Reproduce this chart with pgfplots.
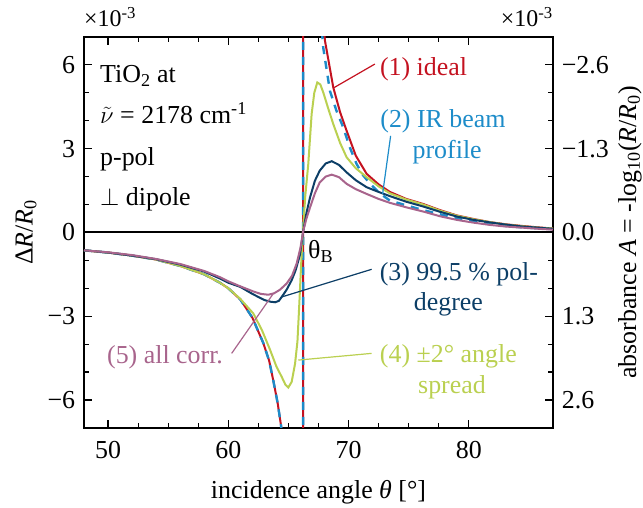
\documentclass[border=0pt]{standalone}
\usepackage{pgfplots}
\pgfplotsset{compat=1.18}
\usepackage{fontspec}
\setmainfont{Liberation Serif}
\definecolor{cI}{RGB}{196,18,32}
\definecolor{cII}{RGB}{29,140,201}
\definecolor{cIII}{RGB}{12,62,102}
\definecolor{cIV}{RGB}{186,208,80}
\definecolor{cV}{RGB}{168,100,140}
\begin{document}
\fontsize{26}{31}\selectfont
\begin{tikzpicture}
\useasboundingbox (-84bp,-80bp) rectangle (559bp,428bp);
\begin{axis}[
 name=main,
 at={(0,0)}, anchor=south west,
 scale only axis, width=469bp, height=391bp,
 xmin=48, xmax=87, ymin=-7, ymax=7,
 xtick={50,60,70,80}, xticklabels={50,60,70,80}, minor x tick num=3,
 ytick={-6,-3,0,3,6}, yticklabels={−6,−3,0,3,6}, minor y tick num=2,
 tick align=inside,
 major tick length=8bp, minor tick length=5bp,
 every tick/.style={black, line width=1.2bp},
 axis line style={line width=2bp},
 ytick pos=both, yticklabel pos=left, xtick pos=both, xticklabel pos=bottom,
 xticklabel style={yshift=-4bp},
 xlabel={incidence angle \textit{θ} [°]},
 ylabel={Δ\textit{R}/\textit{R}\textsubscript{0}},
 xlabel style={at={(axis description cs:0.5,-0.1637)}, anchor=center},
 ylabel style={at={(axis description cs:-0.1237,0.5)}, anchor=center},
 clip mode=individual,
]
\addplot[black, line width=2bp] coordinates {(48,0)(87,0)};
% (1) ideal
\addplot[cI, line width=2bp] coordinates {
(48,-0.64)(50,-0.72)(52,-0.83)(54,-0.97)(56,-1.2)(58,-1.5)(59.3,-1.8)(60,-2.0)(61,-2.4)(62,-3.05)(62.9,-3.95)(63.4,-4.6)(63.74,-5.3)(64.1,-6.1)(64.38,-6.9)(64.6,-7.7)(65,-9.5)(65.5,-15)(65.9,-35)(66.18,-150)
(66.26,150)(66.6,35)(67,15)(67.5,9.3)(68.04,6.86)(68.73,5.19)(69.3,4.3)(69.84,3.64)(70.6,2.75)(71.5,2.1)(72.5,1.72)(73.44,1.45)(74.8,1.2)(76.2,1.02)(77.6,0.8)(79,0.61)(80.4,0.48)(81.75,0.37)(83.1,0.29)(84.5,0.23)(85.8,0.18)(87,0.14)};
% (2) IR beam profile
\addplot[cII, line width=2.4bp, dash pattern=on 8bp off 7bp] coordinates {
(48,-0.64)(50,-0.72)(52,-0.83)(54,-0.97)(56,-1.2)(58,-1.5)(59.3,-1.8)(60,-2.0)(61,-2.4)(62,-3.05)(62.9,-3.95)(63.4,-4.6)(63.74,-5.3)(64.1,-6.1)(64.38,-6.9)(64.6,-7.7)(65,-9.5)(65.5,-15)(65.9,-35)(66.18,-150)
(66.26,150)(66.6,35)(67,14)(67.5,8.6)(67.9,6.6)(68.45,5.07)(69,4.35)(69.56,3.76)(70.1,3.05)(70.67,2.45)(71.2,2.05)(71.8,1.74)(72.6,1.4)(73.44,1.14)(74.8,0.97)(76.2,0.8)(77.6,0.65)(79,0.52)(80.4,0.4)(81.75,0.3)(83.1,0.23)(84.5,0.18)(85.8,0.15)(87,0.12)};
% (4) angle spread
\addplot[cIV, line width=2bp] coordinates {
(48,-0.64)(50,-0.72)(52,-0.83)(54,-0.97)(56,-1.2)(58,-1.5)(59.3,-1.8)(60,-2.0)(61,-2.38)(62.08,-2.9)(62.8,-3.5)(63.47,-4.2)(64.0,-4.8)(64.44,-5.17)(64.75,-5.45)(64.99,-5.55)(65.27,-5.35)(65.55,-4.7)(65.75,-3.9)(65.9,-2.6)(66.05,-1.2)(66.2,0.0)(66.4,1.3)(66.65,2.45)(66.93,4.24)(67.15,5.0)(67.4,5.37)(67.65,5.3)(67.9,5.01)(68.3,4.45)(68.73,3.88)(69.3,3.2)(69.84,2.69)(70.6,2.3)(71.5,1.98)(72.5,1.65)(73.44,1.4)(74.8,1.18)(76.2,1.0)(77.6,0.78)(79,0.6)(80.4,0.47)(81.75,0.37)(83.1,0.28)(84.5,0.22)(85.8,0.17)(87,0.14)};
% (3) pol degree
\addplot[cIII, line width=2bp] coordinates {
(48,-0.64)(50,-0.72)(52,-0.83)(54,-0.96)(56,-1.15)(58,-1.4)(59.3,-1.65)(60,-1.8)(61,-1.95)(62,-2.2)(63,-2.42)(63.5,-2.48)(63.9,-2.5)(64.2,-2.45)(64.44,-2.31)(64.85,-2.05)(65.27,-1.71)(65.6,-1.35)(65.96,-0.8)(66.23,0.05)(66.5,0.7)(66.8,1.26)(67.2,1.85)(67.6,2.21)(68.1,2.47)(68.6,2.55)(69.2,2.42)(69.84,2.15)(70.6,1.87)(71.5,1.62)(72.5,1.45)(73.44,1.3)(74.8,1.1)(76.2,0.93)(77.6,0.74)(79,0.57)(80.4,0.45)(81.75,0.36)(83.1,0.28)(84.5,0.21)(85.8,0.17)(87,0.13)};
% (5) all corr
\addplot[cV, line width=2bp] coordinates {
(48,-0.64)(50,-0.71)(52,-0.81)(54,-0.95)(56,-1.13)(58,-1.38)(59.3,-1.6)(60,-1.75)(61,-1.93)(62,-2.1)(62.7,-2.2)(63.33,-2.23)(63.8,-2.18)(64.3,-2.05)(64.85,-1.83)(65.3,-1.55)(65.68,-1.12)(66.0,-0.55)(66.23,0.05)(66.5,0.5)(66.8,0.9)(67.2,1.4)(67.6,1.79)(68.1,2.0)(68.6,2.07)(69.2,1.98)(69.84,1.74)(70.6,1.55)(71.5,1.38)(72.5,1.2)(73.44,1.06)(74.8,0.9)(76.2,0.75)(77.6,0.58)(79,0.45)(80.4,0.35)(81.75,0.27)(83.1,0.21)(84.5,0.17)(85.8,0.13)(87,0.1)};
% leader lines
\addplot[cI, line width=1.2bp] coordinates {(72.19,6.03)(68.73,5.17)};
\addplot[cII, line width=1.2bp] coordinates {(73.5,3.46)(72.83,1.38)};
\addplot[cIII, line width=1.2bp] coordinates {(71.92,-1.32)(64.44,-2.31)};
\addplot[cIV, line width=1.2bp] coordinates {(71.92,-4.33)(65.82,-4.57)};
\addplot[cV, line width=1.2bp] coordinates {(60.28,-4.33)(63.74,-2.19)};
% texts
\node[cI, anchor=base west, inner sep=0pt] at (axis cs:72.6,5.62) {(1) ideal};
\node[cII, anchor=base] at (axis cs:77.85,3.76) {(2) IR beam};
\node[cII, anchor=base] at (axis cs:78.2,2.65) {profile};
\node[cIII, anchor=base] at (axis cs:79.18,-1.72) {(3) 99.5 \% pol-};
\node[cIII, anchor=base] at (axis cs:78.3,-2.79) {degree};
\node[cIV, anchor=base] at (axis cs:78.3,-4.64) {(4) ±2° angle};
\node[cIV, anchor=base] at (axis cs:78.6,-5.76) {spread};
\node[cV, anchor=base] at (axis cs:54.74,-4.69) {(5) all corr.};
\node[anchor=base west, inner sep=0pt] at (axis cs:49.33,5.37) {TiO\textsubscript{2} at};
\node[anchor=base west, inner sep=0pt] at (axis cs:49.33,3.9) {$\tilde{\nu}$ = 2178 cm\textsuperscript{-1}};
\node[anchor=base west, inner sep=0pt] at (axis cs:49.33,2.4) {p-pol};
\node[anchor=base west, inner sep=0pt] at (axis cs:49.33,0.97) {$\perp$ dipole};
\node[anchor=base west, inner sep=0pt] at (axis cs:66.63,-0.93) {θ\textsubscript{B}};
\end{axis}
\begin{axis}[
 at={(0,0)}, anchor=south west,
 scale only axis, width=469bp, height=391bp,
 xmin=48, xmax=87, ymin=-7, ymax=7,
 axis x line=none, axis y line*=right,
 ytick={-6,-3,0,3,6}, yticklabels={2.6,1.3,0.0,−1.3,−2.6},
 major tick length=0pt, minor tick num=0,
 axis line style={draw=none},
 ylabel={absorbance \textit{A} = -log\textsubscript{10}(\textit{R}/\textit{R}\textsubscript{0})},
 ylabel style={at={(axis description cs:1.164,0.5)}, anchor=center},
]
\end{axis}
\node[anchor=base west, inner sep=0pt, font=\fontsize{24}{28}\selectfont] at ([yshift=10bp]main.north west) {×10\textsuperscript{-3}};
\node[anchor=base east, inner sep=0pt, font=\fontsize{24}{28}\selectfont] at ([yshift=10bp]main.north east) {×10\textsuperscript{-3}};
\end{tikzpicture}
\end{document}
